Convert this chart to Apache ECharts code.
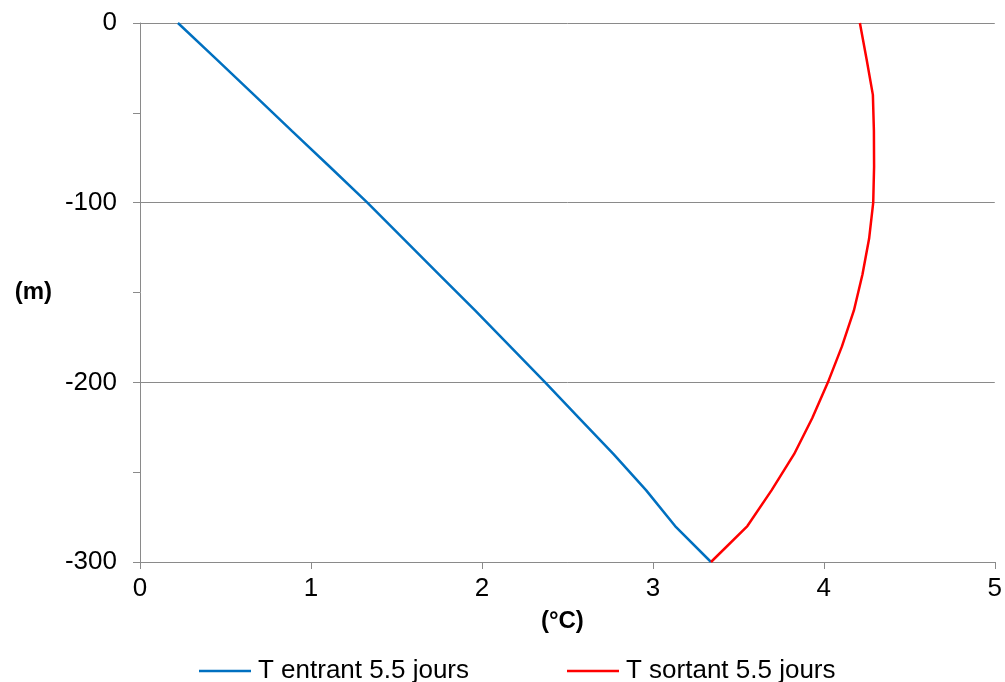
<!DOCTYPE html>
<html>
<head>
<meta charset="utf-8">
<script src="https://cdn.jsdelivr.net/npm/echarts@6/dist/echarts.min.js"></script>
<style>
  html, body { margin: 0; padding: 0; background: #ffffff; }
  #chart { width: 1005px; height: 682px; }
</style>
</head>
<body>
<div id="chart"></div>
<script>
// Depth below surface (m), one reading every 20 m
const depths = [0, -20, -40, -60, -80, -100, -120, -140, -160, -180, -200, -220, -240, -260, -280, -300];
// Inlet temperature after 5.5 days (°C)
const tEntrant = [0.222, 0.445, 0.667, 0.888, 1.11, 1.33, 1.54, 1.75, 1.96, 2.165, 2.37, 2.57, 2.77, 2.96, 3.13, 3.34];
// Outlet temperature after 5.5 days (°C)
const tSortant = [4.211, 4.25, 4.287, 4.293, 4.294, 4.289, 4.265, 4.226, 4.176, 4.106, 4.024, 3.932, 3.826, 3.695, 3.553, 3.34];

const seriesNames = ['T entrant 5.5 jours', 'T sortant 5.5 jours'];
const xName = '(°C)';
const yName = '(m)';

const font = '"Liberation Sans", Arial, sans-serif';
const axisGray = '#8a8a8a';

const pairs = (xs) => xs.map((x, i) => [x, depths[i]]);

const chart = echarts.init(document.getElementById('chart'), null, { renderer: 'canvas' });
chart.setOption({
  animation: false,
  backgroundColor: '#ffffff',
  grid: { left: 140, right: 9, top: 23, bottom: 120, containLabel: false },
  legend: {
    left: 194,
    top: 653,
    itemGap: 98,
    itemWidth: 52,
    itemHeight: 2.5,
    icon: 'rect',
    textStyle: { fontFamily: font, fontSize: 26, color: '#000000', padding: [0, 0, 0, 2] },
    data: seriesNames
  },
  xAxis: {
    type: 'value',
    min: 0, max: 5, interval: 1,
    name: xName,
    nameLocation: 'middle',
    nameGap: 47,
    nameTextStyle: { fontFamily: font, fontSize: 24, fontWeight: 'bold', color: '#000000', padding: [0, 10, 0, 0] },
    axisLine: { show: true, onZero: false, lineStyle: { color: axisGray, width: 1 } },
    axisTick: { show: true, inside: false, length: 7, lineStyle: { color: axisGray } },
    axisLabel: { fontFamily: font, fontSize: 26, color: '#000000', margin: 14 },
    splitLine: { show: false }
  },
  yAxis: {
    type: 'value',
    min: -300, max: 0, interval: 100,
    name: yName,
    nameLocation: 'middle',
    nameRotate: 0,
    nameGap: 88,
    nameTextStyle: { fontFamily: font, fontSize: 24, fontWeight: 'bold', color: '#000000', padding: [8, 0, 0, 0] },
    axisLine: { show: true, lineStyle: { color: axisGray, width: 1 } },
    axisTick: { show: true, inside: false, length: 7, lineStyle: { color: axisGray } },
    minorTick: { show: true, splitNumber: 2, length: 7, lineStyle: { color: axisGray } },
    axisLabel: { fontFamily: font, fontSize: 26, color: '#000000', margin: 23 },
    splitLine: { show: true, lineStyle: { color: axisGray, width: 1 } }
  },
  series: [
    {
      name: seriesNames[0],
      type: 'line',
      data: pairs(tEntrant),
      symbol: 'none',
      lineStyle: { color: '#0070C0', width: 2.5 },
      itemStyle: { color: '#0070C0' }
    },
    {
      name: seriesNames[1],
      type: 'line',
      data: pairs(tSortant),
      symbol: 'none',
      lineStyle: { color: '#FF0000', width: 2.5 },
      itemStyle: { color: '#FF0000' }
    }
  ]
});
</script>
</body>
</html>
